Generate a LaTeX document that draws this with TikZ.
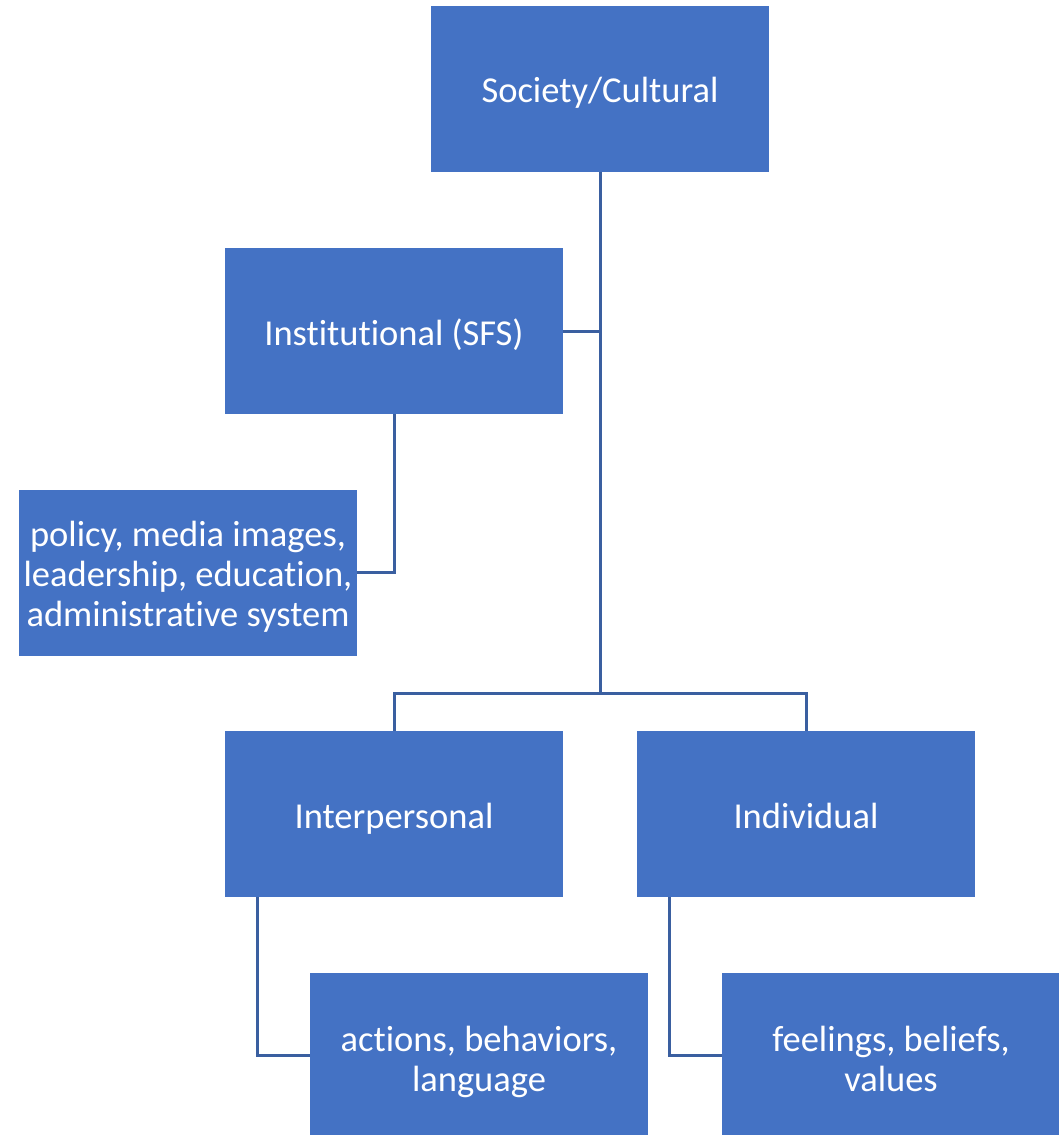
\documentclass[tikz,border=0pt]{standalone}
\usepackage{fontspec}
\setmainfont{Carlito}[Ligatures=NoCommon]
\usepackage{tikz}
\usetikzlibrary{positioning,calc}
\definecolor{boxblue}{HTML}{4472C4}
\definecolor{lineblue}{HTML}{3A5FA0}
\tikzstyle{level}=[fill=boxblue,text=white,minimum width=338pt,minimum height=166pt,inner sep=0pt,align=center,font=\fontsize{36.5}{40}\selectfont,execute at begin node={\rule{0pt}{37pt}},execute at end node={\rule[-9pt]{0pt}{9pt}}]
\tikzset{detail/.style={level,text height=#1,text depth=9pt}}
\tikzstyle{link}=[draw=lineblue,line width=3pt]

\begin{document}
\begin{tikzpicture}[x=1pt,y=-1pt]
\useasboundingbox (0,0) rectangle (1058,1135);
% top level
\node [level] (soc) at (600,88.5) {Society/Cultural};
\node [level] (inst) at (394,331) {Institutional (SFS)};
\node [detail=117pt] (pol) at (188,572.5) {policy, media images,\\leadership, education,\\administrative system};
% lower levels
\node [level] (inter) at (394,814) {Interpersonal};
\node [level] (indiv) at (806,814) {Individual};
\node [detail=80pt] (act) at (479,1055.5) {actions, behaviors,\\language};
\node [detail=80pt] (feel) at (891,1055.5) {feelings, beliefs,\\values};
% connectors
\coordinate (bus) at (600,693);
\draw [link] (soc.south) -- (bus);
\draw [link] (inst.east) -- (inst.east -| bus);
\draw [link] (bus) -| (inter.north);
\draw [link] (bus) -| (indiv.north);
\draw [link] (inst.south) |- (pol.east);
\draw [link] ([xshift=33pt]inter.south west) |- (act.west);
\draw [link] ([xshift=33pt]indiv.south west) |- (feel.west);
\end{tikzpicture}
\end{document}
